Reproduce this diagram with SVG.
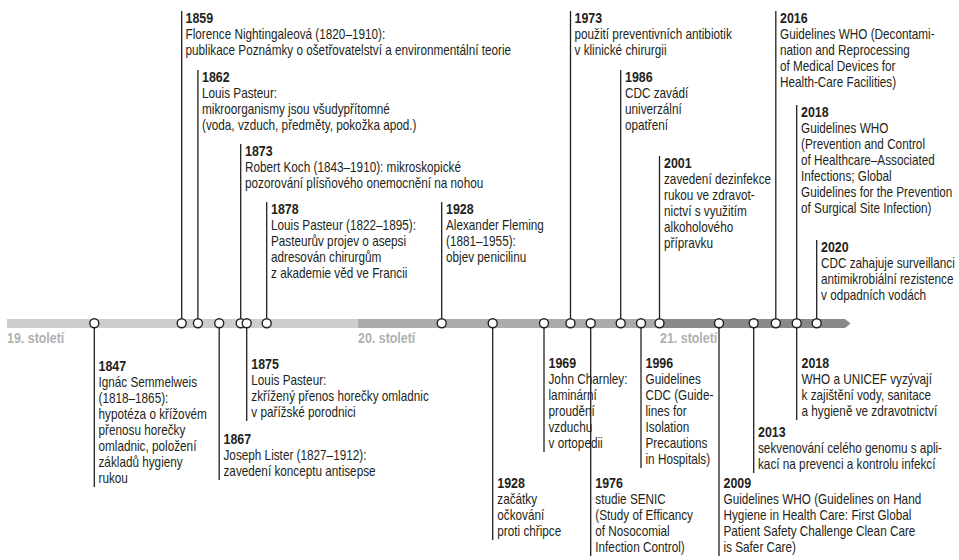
<svg xmlns="http://www.w3.org/2000/svg" width="959" height="560" viewBox="0 0 959 560">
<style>
.t{font-family:"Liberation Sans",Arial,sans-serif;font-size:14px;fill:#231f20}
.y{font-weight:bold;font-size:14.8px}
.c{font-family:"Liberation Sans",Arial,sans-serif;font-weight:bold;font-size:14.8px;fill:#b0b0b0}
.ln{stroke:#231f20;stroke-width:1.3;fill:none}
.dot{fill:#fff;stroke:#231f20;stroke-width:1.4}
</style>
<rect width="959" height="560" fill="#fff"/>
<g id="timeline">
<rect x="7" y="319" width="351" height="9" fill="#cdcdcd"/>
<rect x="358" y="319" width="302" height="9" fill="#ababab"/>
<rect x="660" y="319" width="185" height="9" fill="#8a8a8a"/>
<polygon points="845,319 850.5,323.5 845,328" fill="#8a8a8a"/>
<g transform="translate(7,0) scale(0.84,1)"><text class="c" x="0" y="343">19. století</text></g>
<g transform="translate(358,0) scale(0.84,1)"><text class="c" x="0" y="343">20. století</text></g>
<g transform="translate(660,0) scale(0.84,1)"><text class="c" x="0" y="343">21. století</text></g>
</g>
<g id="connectors" class="ln">
<line x1="181.7" y1="11" x2="181.7" y2="318.5"/>
<line x1="197.9" y1="70" x2="197.9" y2="318.5"/>
<line x1="240.7" y1="144" x2="240.7" y2="318.5"/>
<line x1="266.7" y1="202" x2="266.7" y2="318.5"/>
<line x1="441.7" y1="202" x2="441.7" y2="318.5"/>
<line x1="570.5" y1="11" x2="570.5" y2="318.5"/>
<line x1="620.7" y1="70" x2="620.7" y2="318.5"/>
<line x1="659.5" y1="156" x2="659.5" y2="318.5"/>
<line x1="775.8" y1="11" x2="775.8" y2="318.5"/>
<line x1="796.7" y1="105" x2="796.7" y2="318.5"/>
<line x1="816.7" y1="240" x2="816.7" y2="318.5"/>
<line x1="94.3" y1="327.5" x2="94.3" y2="487"/>
<line x1="219.2" y1="327.5" x2="219.2" y2="480"/>
<line x1="246.7" y1="327.5" x2="246.7" y2="421"/>
<line x1="492.7" y1="327.5" x2="492.7" y2="540"/>
<line x1="544" y1="327.5" x2="544" y2="452"/>
<line x1="590.7" y1="327.5" x2="590.7" y2="556"/>
<line x1="641" y1="327.5" x2="641" y2="468"/>
<line x1="719" y1="327.5" x2="719" y2="556"/>
<line x1="753.7" y1="327.5" x2="753.7" y2="473"/>
<line x1="796.7" y1="327.5" x2="796.7" y2="420"/>
</g>
<g id="e1847"><circle class="dot" cx="94.3" cy="323.3" r="4.5"/>
<g transform="translate(98.5,0) scale(0.84,1)"><text class="t"><tspan x="0" y="371" class="y">1847</tspan><tspan x="0" y="387">Ignác Semmelweis</tspan><tspan x="0" y="403">(1818–1865):</tspan><tspan x="0" y="419">hypotéza o křížovém</tspan><tspan x="0" y="435">přenosu horečky</tspan><tspan x="0" y="451">omladnic, položení</tspan><tspan x="0" y="467">základů hygieny</tspan><tspan x="0" y="483">rukou</tspan></text></g></g>
<g id="e1859"><circle class="dot" cx="181.7" cy="323.3" r="4.5"/>
<g transform="translate(185.5,0) scale(0.84,1)"><text class="t"><tspan x="0" y="23" class="y">1859</tspan><tspan x="0" y="39">Florence Nightingaleová (1820–1910):</tspan><tspan x="0" y="55">publikace Poznámky o ošetřovatelství a environmentální teorie</tspan></text></g></g>
<g id="e1862"><circle class="dot" cx="197.9" cy="323.3" r="4.5"/>
<g transform="translate(202,0) scale(0.84,1)"><text class="t"><tspan x="0" y="82" class="y">1862</tspan><tspan x="0" y="98">Louis Pasteur:</tspan><tspan x="0" y="114">mikroorganismy jsou všudypřítomné</tspan><tspan x="0" y="130">(voda, vzduch, předměty, pokožka apod.)</tspan></text></g></g>
<g id="e1867"><circle class="dot" cx="219.2" cy="323.3" r="4.5"/>
<g transform="translate(223.5,0) scale(0.84,1)"><text class="t"><tspan x="0" y="444" class="y">1867</tspan><tspan x="0" y="460">Joseph Lister (1827–1912):</tspan><tspan x="0" y="476">zavedení konceptu antisepse</tspan></text></g></g>
<g id="e1873"><circle class="dot" cx="240.7" cy="323.3" r="4.5"/>
<g transform="translate(245,0) scale(0.84,1)"><text class="t"><tspan x="0" y="156" class="y">1873</tspan><tspan x="0" y="172">Robert Koch (1843–1910): mikroskopické</tspan><tspan x="0" y="188">pozorování plísňového onemocnění na nohou</tspan></text></g></g>
<g id="e1875"><circle class="dot" cx="246.7" cy="323.3" r="4.5"/>
<g transform="translate(251.3,0) scale(0.84,1)"><text class="t"><tspan x="0" y="369" class="y">1875</tspan><tspan x="0" y="385">Louis Pasteur:</tspan><tspan x="0" y="401">zkřížený přenos horečky omladnic</tspan><tspan x="0" y="417">v pařížské porodnici</tspan></text></g></g>
<g id="e1878"><circle class="dot" cx="266.7" cy="323.3" r="4.5"/>
<g transform="translate(271,0) scale(0.84,1)"><text class="t"><tspan x="0" y="214" class="y">1878</tspan><tspan x="0" y="230">Louis Pasteur (1822–1895):</tspan><tspan x="0" y="246">Pasteurův projev o asepsi</tspan><tspan x="0" y="262">adresován chirurgům</tspan><tspan x="0" y="278">z akademie věd ve Francii</tspan></text></g></g>
<g id="e1928a"><circle class="dot" cx="441.7" cy="323.3" r="4.5"/>
<g transform="translate(446,0) scale(0.84,1)"><text class="t"><tspan x="0" y="214" class="y">1928</tspan><tspan x="0" y="230">Alexander Fleming</tspan><tspan x="0" y="246">(1881–1955):</tspan><tspan x="0" y="262">objev penicilinu</tspan></text></g></g>
<g id="e1928b"><circle class="dot" cx="492.7" cy="323.3" r="4.5"/>
<g transform="translate(497.3,0) scale(0.84,1)"><text class="t"><tspan x="0" y="488" class="y">1928</tspan><tspan x="0" y="504">začátky</tspan><tspan x="0" y="520">očkování</tspan><tspan x="0" y="536">proti chřipce</tspan></text></g></g>
<g id="e1969"><circle class="dot" cx="544" cy="323.3" r="4.5"/>
<g transform="translate(548.5,0) scale(0.84,1)"><text class="t"><tspan x="0" y="368" class="y">1969</tspan><tspan x="0" y="384">John Charnley:</tspan><tspan x="0" y="400">laminární</tspan><tspan x="0" y="416">proudění</tspan><tspan x="0" y="432">vzduchu</tspan><tspan x="0" y="448">v ortopedii</tspan></text></g></g>
<g id="e1973"><circle class="dot" cx="570.5" cy="323.3" r="4.5"/>
<g transform="translate(574.5,0) scale(0.84,1)"><text class="t"><tspan x="0" y="23" class="y">1973</tspan><tspan x="0" y="39">použití preventivních antibiotik</tspan><tspan x="0" y="55">v klinické chirurgii</tspan></text></g></g>
<g id="e1976"><circle class="dot" cx="590.7" cy="323.3" r="4.5"/>
<g transform="translate(595.3,0) scale(0.84,1)"><text class="t"><tspan x="0" y="488" class="y">1976</tspan><tspan x="0" y="504">studie SENIC</tspan><tspan x="0" y="520">(Study of Efficancy</tspan><tspan x="0" y="536">of Nosocomial</tspan><tspan x="0" y="552">Infection Control)</tspan></text></g></g>
<g id="e1986"><circle class="dot" cx="620.7" cy="323.3" r="4.5"/>
<g transform="translate(625,0) scale(0.84,1)"><text class="t"><tspan x="0" y="82" class="y">1986</tspan><tspan x="0" y="98">CDC zavádí</tspan><tspan x="0" y="114">univerzální</tspan><tspan x="0" y="130">opatření</tspan></text></g></g>
<g id="e1996"><circle class="dot" cx="641" cy="323.3" r="4.5"/>
<g transform="translate(645.5,0) scale(0.84,1)"><text class="t"><tspan x="0" y="368" class="y">1996</tspan><tspan x="0" y="384">Guidelines</tspan><tspan x="0" y="400">CDC (Guide-</tspan><tspan x="0" y="416">lines for</tspan><tspan x="0" y="432">Isolation</tspan><tspan x="0" y="448">Precautions</tspan><tspan x="0" y="464">in Hospitals)</tspan></text></g></g>
<g id="e2001"><circle class="dot" cx="659.5" cy="323.3" r="4.5"/>
<g transform="translate(664,0) scale(0.84,1)"><text class="t"><tspan x="0" y="168" class="y">2001</tspan><tspan x="0" y="184">zavedení dezinfekce</tspan><tspan x="0" y="200">rukou ve zdravot-</tspan><tspan x="0" y="216">nictví s využitím</tspan><tspan x="0" y="232">alkoholového</tspan><tspan x="0" y="248">přípravku</tspan></text></g></g>
<g id="e2009"><circle class="dot" cx="719" cy="323.3" r="4.5"/>
<g transform="translate(723.5,0) scale(0.84,1)"><text class="t"><tspan x="0" y="488" class="y">2009</tspan><tspan x="0" y="504">Guidelines WHO (Guidelines on Hand</tspan><tspan x="0" y="520">Hygiene in Health Care: First Global</tspan><tspan x="0" y="536">Patient Safety Challenge Clean Care</tspan><tspan x="0" y="552">is Safer Care)</tspan></text></g></g>
<g id="e2013"><circle class="dot" cx="753.7" cy="323.3" r="4.5"/>
<g transform="translate(758,0) scale(0.84,1)"><text class="t"><tspan x="0" y="437" class="y">2013</tspan><tspan x="0" y="453">sekvenování celého genomu s apli-</tspan><tspan x="0" y="469">kací na prevenci a kontrolu infekcí</tspan></text></g></g>
<g id="e2016"><circle class="dot" cx="775.8" cy="323.3" r="4.5"/>
<g transform="translate(780,0) scale(0.84,1)"><text class="t"><tspan x="0" y="23" class="y">2016</tspan><tspan x="0" y="39">Guidelines WHO (Decontami-</tspan><tspan x="0" y="55">nation and Reprocessing</tspan><tspan x="0" y="71">of Medical Devices for</tspan><tspan x="0" y="87">Health-Care Facilities)</tspan></text></g></g>
<g id="e2018a"><circle class="dot" cx="796.7" cy="323.3" r="4.5"/>
<g transform="translate(801,0) scale(0.84,1)"><text class="t"><tspan x="0" y="117" class="y">2018</tspan><tspan x="0" y="133">Guidelines WHO</tspan><tspan x="0" y="149">(Prevention and Control</tspan><tspan x="0" y="165">of Healthcare–Associated</tspan><tspan x="0" y="181">Infections; Global</tspan><tspan x="0" y="197">Guidelines for the Prevention</tspan><tspan x="0" y="213">of Surgical Site Infection)</tspan></text></g></g>
<g id="e2018b">
<g transform="translate(801.5,0) scale(0.84,1)"><text class="t"><tspan x="0" y="368" class="y">2018</tspan><tspan x="0" y="384">WHO a UNICEF vyzývají</tspan><tspan x="0" y="400">k zajištění vody, sanitace</tspan><tspan x="0" y="416">a hygieně ve zdravotnictví</tspan></text></g></g>
<g id="e2020"><circle class="dot" cx="816.7" cy="323.3" r="4.5"/>
<g transform="translate(821,0) scale(0.84,1)"><text class="t"><tspan x="0" y="252" class="y">2020</tspan><tspan x="0" y="268">CDC zahajuje surveillanci</tspan><tspan x="0" y="284">antimikrobiální rezistence</tspan><tspan x="0" y="300">v odpadních vodách</tspan></text></g></g>
</svg>
